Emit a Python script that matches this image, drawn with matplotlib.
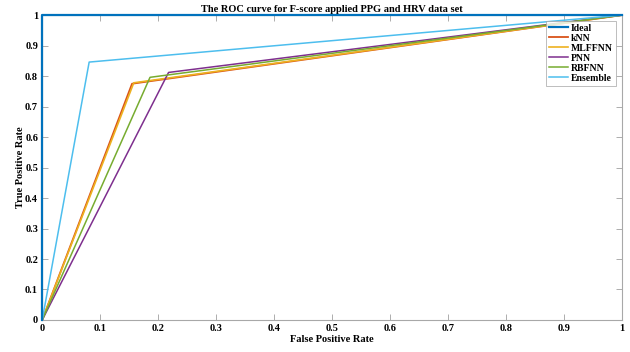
import numpy as np
import matplotlib.pyplot as plt

# ROC points (FPR, TPR) for each classifier
ideal_fpr = [0, 0, 1]
ideal_tpr = [0, 1, 1]
knn_fpr = [0, 0.155, 1]
knn_tpr = [0, 0.775, 1]
mlffnn_fpr = [0, 0.158, 1]
mlffnn_tpr = [0, 0.778, 1]
pnn_fpr = [0, 0.218, 1]
pnn_tpr = [0, 0.812, 1]
rbfnn_fpr = [0, 0.186, 1]
rbfnn_tpr = [0, 0.796, 1]
ens_fpr = [0, 0.081, 1]
ens_tpr = [0, 0.846, 1]

plt.rcParams['font.family'] = ['Liberation Serif', 'DejaVu Serif']
plt.rcParams['font.weight'] = 'bold'

fig = plt.figure(figsize=(6.3, 3.52), dpi=100)
ax = fig.add_axes([0.067, 0.091, 0.92, 0.866])

ax.plot(ideal_fpr, ideal_tpr, color='#0072BD', lw=1.6, label='Ideal', clip_on=False, zorder=5)
ax.plot(knn_fpr, knn_tpr, color='#D95319', lw=1.3, label='kNN')
ax.plot(mlffnn_fpr, mlffnn_tpr, color='#EDB120', lw=1.2, label='MLFFNN')
ax.plot(pnn_fpr, pnn_tpr, color='#7E2F8E', lw=1.1, label='PNN')
ax.plot(rbfnn_fpr, rbfnn_tpr, color='#77AC30', lw=1.1, label='RBFNN')
ax.plot(ens_fpr, ens_tpr, color='#4DBEEE', lw=1.1, label='Ensemble')

ax.set_xlim(0, 1)
ax.set_ylim(0, 1)
ax.set_xticks(np.arange(0, 1.01, 0.1))
ax.set_yticks(np.arange(0, 1.01, 0.1))
ax.set_xticklabels(['0', '0.1', '0.2', '0.3', '0.4', '0.5', '0.6', '0.7', '0.8', '0.9', '1'])
ax.set_yticklabels(['0', '0.1', '0.2', '0.3', '0.4', '0.5', '0.6', '0.7', '0.8', '0.9', '1'])
ax.tick_params(direction='in', length=4, width=0.6, color='#a0a0a0',
               labelsize=7.5, top=True, right=True, pad=3)
for s in ax.spines.values():
    s.set_color('#a8a8a8')
    s.set_linewidth(0.8)

ax.set_title('The ROC curve for F-score applied PPG and HRV data set',
             fontsize=7.5, fontweight='bold', pad=2)
ax.set_xlabel('False Positive Rate', fontsize=7.5, fontweight='bold', labelpad=1)
ax.set_ylabel('True Positive Rate', fontsize=7.5, fontweight='bold', labelpad=0)

leg = ax.legend(loc='upper right', fontsize=7, frameon=True, fancybox=False,
                borderpad=0.3, labelspacing=0.1, handlelength=2.0,
                handletextpad=0.3, borderaxespad=0.6)
leg.get_frame().set_edgecolor('#a0a0a0')
leg.get_frame().set_linewidth(0.6)

fig.savefig('out.png', dpi=100)
